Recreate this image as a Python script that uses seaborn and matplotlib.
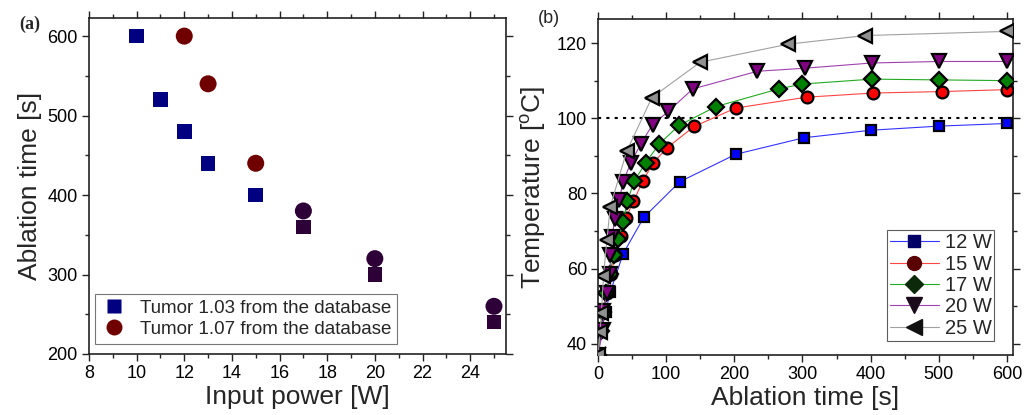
import seaborn as sns
import numpy as np
import pandas as pd
import matplotlib.pyplot as plt
from matplotlib.lines import Line2D
from matplotlib.ticker import MultipleLocator

sns.set_style("ticks")
plt.rcParams['font.family'] = ['Liberation Sans', 'DejaVu Sans']
plt.rcParams['mathtext.default'] = 'regular'

# (a) ablation time vs input power
power_103 = [10, 11, 12, 13, 15, 17, 20, 25]
time_103 = [600, 520, 480, 440, 400, 360, 300, 240]
shade_103 = ['a', 'a', 'a', 'a', 'a', 'c', 'c', 'c']
power_107 = [12, 13, 15, 17, 20, 25]
time_107 = [600, 540, 440, 380, 320, 260]
shade_107 = ['b', 'b', 'b', 'c', 'c', 'c']
shades = {'a': '#000080', 'b': '#700000', 'c': '#2e0038'}

# (b) temperature vs ablation time
t12 = [0, 5, 11, 18, 37, 67, 120, 202, 302, 400, 500, 600]
T12 = [37, 43.5, 48.5, 53.8, 64.0, 73.6, 83.1, 90.4, 94.8, 96.8, 97.9, 98.6]
t15 = [0, 4, 8, 13, 19, 25, 34, 41, 52, 66, 81, 101, 141, 202, 306, 404, 505, 600]
T15 = [37, 43.5, 48.5, 53.5, 58.5, 63.5, 68.6, 73.4, 77.9, 83.4, 88.1, 92.1, 97.8,
       102.7, 105.6, 106.7, 107.1, 107.6]
t17 = [0, 4, 8, 12, 17, 23, 30, 37, 43, 53, 70, 90, 119, 173, 265, 300, 402, 501, 600]
T17 = [37, 43.5, 48.5, 53.5, 58.5, 63.5, 67.8, 72.5, 77.9, 83.2, 88.2, 93.2, 98.1,
       103.1, 107.8, 109.1, 110.4, 110.2, 110.0]
t20 = [0, 7, 8, 13, 18, 18, 20, 25, 31, 37, 48, 63, 80, 103, 139, 234, 303, 402, 501, 600]
T20 = [37, 43.7, 48.6, 53.6, 58.6, 63.7, 68.5, 73.1, 78.3, 83.1, 88.2, 93.2, 98.3,
       101.8, 107.8, 112.5, 113.3, 114.7, 115.1, 115.1]
t25 = [0, 3, 5, 8, 13, 18, 42, 79, 150, 279, 392, 600]
T25 = [37, 43, 48.2, 58.1, 67.6, 76.5, 91.2, 105.5, 114.9, 119.7, 122.0, 123.1]

labels_b = ['12 W', '15 W', '17 W', '20 W', '25 W']
series_b = [(t12, T12), (t15, T15), (t17, T17), (t20, T20), (t25, T25)]
line_cols = ['#3333ff', '#ff4444', '#22aa22', '#a040b0', '#a0a0a0']
face_cols = ['#0000ff', '#ff0000', '#008000', '#800080', '#909090']
legend_faces = ['#000066', '#5a0000', '#0a2a0a', '#1a0a1a', '#111111']
markers_b = ['s', 'o', 'D', 'v', '<']
msize_b = [7.5, 8.5, 8, 9.5, 10.5]

fig = plt.figure(figsize=(10.32, 4.15), dpi=100)
ax1 = fig.add_axes([0.0862, 0.147, 0.404, 0.810])
ax2 = fig.add_axes([0.5795, 0.1446, 0.4021, 0.8096])

df103 = pd.DataFrame({'power': power_103, 'time': time_103, 'shade': shade_103})
df107 = pd.DataFrame({'power': power_107, 'time': time_107, 'shade': shade_107})
sns.scatterplot(data=df103, x='power', y='time', hue='shade', palette=shades,
                marker='s', s=110, linewidth=0, legend=False, ax=ax1, zorder=3)
sns.scatterplot(data=df107, x='power', y='time', hue='shade', palette=shades,
                marker='o', s=150, linewidth=0, legend=False, ax=ax1, zorder=3)

ax1.set_xlim(8, 25.5)
ax1.set_ylim(200, 623)
ax1.xaxis.set_major_locator(MultipleLocator(2))
ax1.xaxis.set_minor_locator(MultipleLocator(1))
ax1.yaxis.set_major_locator(MultipleLocator(100))
ax1.yaxis.set_minor_locator(MultipleLocator(50))
ax1.set_xlabel('Input power [W]', fontsize=19, labelpad=2)
ax1.set_ylabel('Ablation time [s]', fontsize=19, labelpad=4)

h1 = [Line2D([0], [0], ls='none', marker='s', ms=10, mfc='#000080', mec='none'),
      Line2D([0], [0], ls='none', marker='o', ms=11.5, mfc='#700000', mec='none')]
leg1 = ax1.legend(h1, ['Tumor 1.03 from the database', 'Tumor 1.07 from the database'],
                  loc='lower left', bbox_to_anchor=(0.005, 0.02), fontsize=13.5,
                  frameon=True, fancybox=False, edgecolor='#555555',
                  handletextpad=0.6, borderpad=0.3, labelspacing=0.2,
                  handlelength=1.5, borderaxespad=0.2)
leg1.get_frame().set_linewidth(0.8)
fig.text(0.019, 0.93, '(a)', fontsize=13, fontweight='bold',
         family=['Liberation Serif', 'DejaVu Serif'])

for (tt, TT), lab, lc, fc, mk, ms in zip(series_b, labels_b, line_cols, face_cols,
                                          markers_b, msize_b):
    sns.lineplot(x=tt, y=TT, sort=False, estimator=None, color=lc, lw=0.8,
                 marker=mk, markersize=ms, markerfacecolor=fc, markeredgecolor='black',
                 markeredgewidth=1.6, ax=ax2, zorder=3)

ax2.axhline(100, color='black', ls=(0, (1.5, 2.5)), lw=1.5, zorder=2)
ax2.set_xlim(0, 609)
ax2.set_ylim(37, 126.4)
ax2.xaxis.set_major_locator(MultipleLocator(100))
ax2.xaxis.set_minor_locator(MultipleLocator(50))
ax2.yaxis.set_major_locator(MultipleLocator(20))
ax2.yaxis.set_minor_locator(MultipleLocator(10))
ax2.set_xlabel('Ablation time [s]', fontsize=19, labelpad=2)
ax2.set_ylabel('Temperature [$^o$C]', fontsize=19, labelpad=6)

h2 = [Line2D([0], [0], color=lc, lw=0.8, marker=mk, ms=ms + 1.5, mfc=lf, mec=lf)
      for lc, mk, ms, lf in zip(line_cols, markers_b, msize_b, legend_faces)]
leg2 = ax2.legend(h2, labels_b, loc='lower right', bbox_to_anchor=(0.965, 0.03),
                  fontsize=14.5, frameon=True, fancybox=False, edgecolor='#333333',
                  handlelength=2.4, handletextpad=0.3, borderpad=0.15,
                  labelspacing=0.12, borderaxespad=0.2)
leg2.get_frame().set_linewidth(0.8)
fig.text(0.521, 0.945, '(b)', fontsize=13)

for ax in (ax1, ax2):
    for side in ax.spines.values():
        side.set_visible(True)
        side.set_linewidth(1.2)
        side.set_color('#222222')
    ax.tick_params(which='both', direction='out', top=True, right=True,
                   labeltop=False, labelright=False, width=1.0, colors='#222222',
                   labelcolor='black')
    ax.tick_params(which='major', length=5, labelsize=13, pad=3)
    ax.tick_params(which='minor', length=3)
    ax.set_facecolor('white')

plt.savefig('out.png', dpi=100)
